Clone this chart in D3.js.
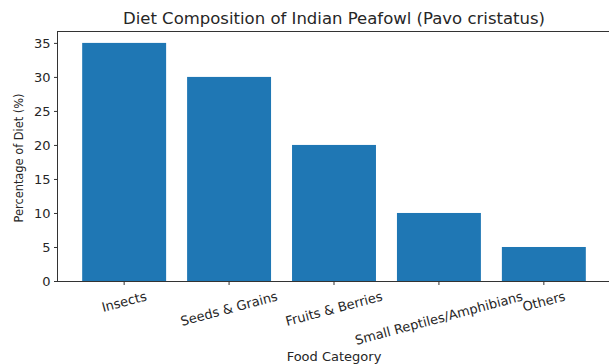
<!DOCTYPE html>
<html>
<head>
<meta charset="utf-8">
<script src="https://cdn.jsdelivr.net/npm/d3@7"></script>
<style>
  html, body { margin: 0; padding: 0; background: #fff; }
  svg { display: block; }
  text { font-family: "DejaVu Sans", sans-serif; fill: #262626; }
</style>
</head>
<body>
<svg id="chart" width="609" height="364"></svg>
<script>
const categories = ["Insects", "Seeds & Grains", "Fruits & Berries", "Small Reptiles/Amphibians", "Others"];
const values = [35, 30, 20, 10, 5];
const yTicks = [0, 5, 10, 15, 20, 25, 30, 35];
const titleText = "Diet Composition of Indian Peafowl (Pavo cristatus)";
const xLabel = "Food Category";
const yLabel = "Percentage of Diet (%)";

const W = 609, H = 364;
const plot = { left: 57, right: 611, top: 31, bottom: 281 };
const svg = d3.select("#chart");

const n = categories.length;
const x = d3.scaleLinear().domain([-0.4 - 0.05 * (n - 0.2), (n - 1) + 0.4 + 0.05 * (n - 0.2)]).range([plot.left, plot.right]);
const yMax = d3.max(values) * 1.05;
const y = d3.scaleLinear().domain([0, yMax]).range([plot.bottom, plot.top]);

// bars
svg.append("g").selectAll("rect").data(values).join("rect")
  .attr("x", (d, i) => x(i - 0.4))
  .attr("width", (d, i) => x(i + 0.4) - x(i - 0.4))
  .attr("y", d => y(d))
  .attr("height", d => y(0) - y(d))
  .attr("fill", "#1f77b4");

// spines
svg.append("rect").attr("x", plot.left + 0.5).attr("y", plot.top + 0.5)
  .attr("width", plot.right - plot.left).attr("height", plot.bottom - plot.top)
  .attr("fill", "none").attr("stroke", "#333").attr("stroke-width", 1);

// y axis
const yAxis = d3.axisLeft(y).tickValues(yTicks).tickSize(3.5).tickPadding(3.5).tickFormat(d3.format("d"));
const gy = svg.append("g").attr("transform", `translate(${plot.left + 0.5},0)`).call(yAxis);
gy.select(".domain").remove();
gy.selectAll(".tick line").attr("stroke", "#333");
gy.selectAll(".tick text").attr("font-size", 13).style("font-family", "'DejaVu Sans', sans-serif").style("fill", "#262626");

// x axis ticks
const gx = svg.append("g").attr("transform", `translate(0,${plot.bottom + 0.5})`);
const xt = gx.selectAll("g").data(categories).join("g").attr("transform", (d, i) => `translate(${x(i)},0)`);
xt.append("line").attr("y1", 0).attr("y2", 3.5).attr("stroke", "#333");
const ang = 15 * Math.PI / 180;
const fsX = 13;
xt.append("text")
  .attr("font-size", fsX)
  .attr("text-anchor", "middle")
  .attr("dominant-baseline", "central")
  .text(d => d)
  .each(function() {
    const w = this.getComputedTextLength();
    const h = fsX * 1.17;
    const cy = 7 + (w / 2) * Math.sin(ang) + (h / 2) * Math.cos(ang);
    d3.select(this).attr("transform", `translate(0,${cy}) rotate(-15)`);
  });

// title
svg.append("text").attr("x", (plot.left + plot.right) / 2).attr("y", 24)
  .attr("text-anchor", "middle").attr("font-size", 16.5).text(titleText);

// x label
svg.append("text").attr("x", (plot.left + plot.right) / 2).attr("y", 361)
  .attr("text-anchor", "middle").attr("font-size", 13).text(xLabel);

// y label
svg.append("text").attr("transform", `translate(23,158) rotate(-90)`)
  .attr("text-anchor", "middle").attr("font-size", 12.5)
  .attr("textLength", 129).attr("lengthAdjust", "spacingAndGlyphs")
  .text(yLabel);
</script>
</body>
</html>
